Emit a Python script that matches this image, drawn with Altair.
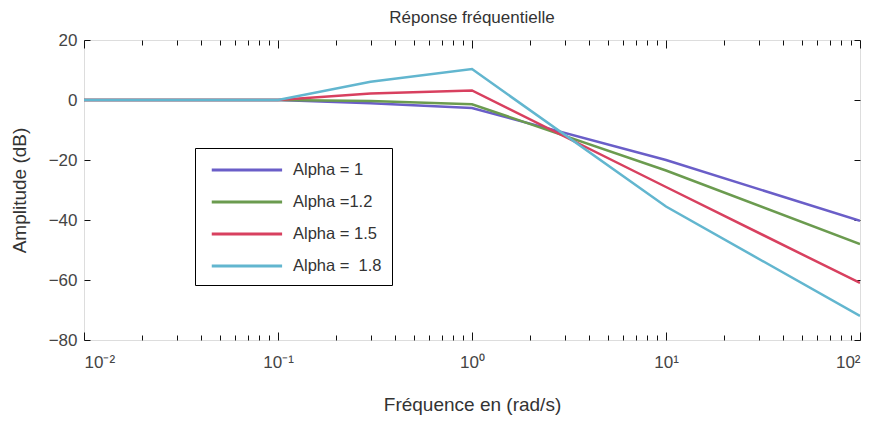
import altair as alt
import pandas as pd

# ---- data ----
freq = [0.01, 0.1, 0.3, 1, 10, 100]
alpha_1 = [0, 0, -1.1, -2.7, -20, -40.3]
alpha_12 = [0, 0, -0.3, -1.4, -23.5, -48]
alpha_15 = [0, 0, 2.2, 3.2, -29, -61]
alpha_18 = [0, 0, 6.1, 10.3, -35.5, -72]

series_names = ["Alpha = 1", "Alpha =1.2", "Alpha = 1.5", "Alpha =\u00a0 1.8"]
series_values = [alpha_1, alpha_12, alpha_15, alpha_18]
series_colors = ["#6a5ec8", "#6b9b4f", "#d8405f", "#62b6cf"]

x_major = [0.01, 0.1, 1, 10, 100]
x_minor = [m * d for d in [0.01, 0.1, 1, 10] for m in range(2, 10)]
y_major = [-80, -60, -40, -20, 0, 20]

rows = []
for name, vals in zip(series_names, series_values):
    for f, v in zip(freq, vals):
        rows.append({"freq": f, "amp": v, "series": name, "order": series_names.index(name)})
df = pd.DataFrame(rows)

FONT = "Liberation Sans"
xscale = alt.Scale(type="log", domain=[0.01, 100], nice=False)
yscale = alt.Scale(domain=[-80, 20], nice=False, zero=False)

label_expr = "'10' + ['\u207b\u00b2','\u207b\u00b9','\u2070','\u00b9','\u00b2'][round(log(datum.value)/LN10)+2]"

lines = alt.Chart(df).mark_line(strokeWidth=2.5, clip=True).encode(
    x=alt.X("freq:Q", scale=xscale,
            axis=alt.Axis(orient="bottom", values=x_major, labelExpr=label_expr, ticks=False,
                          domain=False, grid=False, labelFontSize=17, labelPadding=14,
                          labelColor="#444", title="Fréquence en (rad/s)", titleFontSize=19,
                          titleFontWeight="normal", titleColor="#333", titlePadding=25,
                          labelFont=FONT, titleFont=FONT)),
    y=alt.Y("amp:Q", scale=yscale,
            axis=alt.Axis(orient="left", values=y_major, ticks=False, domain=False, grid=False,
                          labelFontSize=17, labelPadding=7, labelColor="#444",
                          title="Amplitude (dB)", titleFontSize=19, titleFontWeight="normal",
                          titleColor="#333", titlePadding=19, labelFont=FONT, titleFont=FONT)),
    color=alt.Color("series:N",
                    scale=alt.Scale(domain=series_names, range=series_colors),
                    legend=alt.Legend(title=None, orient="none", legendX=111, legendY=108,
                                      symbolType="M-0.5,0H6.2", symbolSize=441, symbolStrokeWidth=3,
                                      labelOffset=64, labelFontSize=16.5, labelColor="#333",
                                      labelFont=FONT, rowPadding=11, padding=10,
                                      strokeColor="#000", fillColor="white",
                                      labelLimit=300)),
    order="order:Q",
    detail="series:N",
)


def tick_layer(x_axis, y_axis):
    return alt.Chart(df).mark_point(opacity=0).encode(
        x=alt.X("freq:Q", scale=xscale, axis=x_axis),
        y=alt.Y("amp:Q", scale=yscale, axis=y_axis),
    )


def xt(orient, values, size):
    return alt.Axis(orient=orient, values=values, offset=-size, tickSize=size, labels=False,
                    domain=False, grid=False, title=None, tickColor="#111", tickWidth=1)


def yt(orient, size):
    return alt.Axis(orient=orient, values=y_major, offset=-size, tickSize=size, labels=False,
                    domain=False, grid=False, title=None, tickColor="#111", tickWidth=1)


t1 = tick_layer(xt("bottom", x_major, 8), yt("left", 6))
t2 = tick_layer(xt("bottom", x_minor, 5), yt("right", 6))
t3 = tick_layer(xt("top", x_major, 8), None)
t4 = tick_layer(xt("top", x_minor, 5), None)

chart = alt.layer(lines, t1, t2, t3, t4).resolve_axis(
    x="independent", y="independent"
).properties(
    width=776,
    height=300,
    autosize=alt.AutoSizeParams(type="none"),
    padding={"left": 84, "top": 40, "right": 18, "bottom": 81},
    title=alt.TitleParams("Réponse fréquentielle", fontSize=17, fontWeight="normal",
                          font=FONT, color="#333", offset=4, anchor="middle"),
).configure_view(
    stroke="#000", strokeWidth=1.5
).configure(background="white")

chart.save("out.html", embed_options={"renderer": "svg", "actions": False})
